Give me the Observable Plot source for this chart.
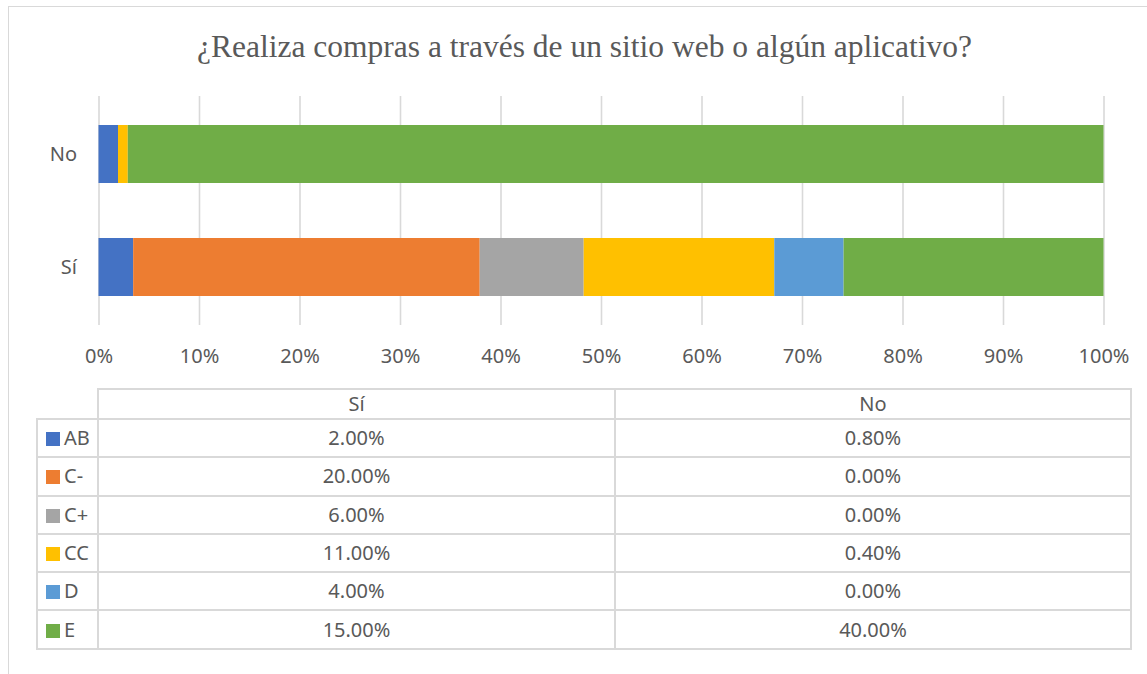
<!DOCTYPE html>
<html>
<head>
<meta charset="utf-8">
<script src="https://cdn.jsdelivr.net/npm/d3@7"></script>
<script src="https://cdn.jsdelivr.net/npm/@observablehq/plot@0.6"></script>
<style>
  html, body { margin: 0; padding: 0; background: #fff; }
  #wrap { position: relative; width: 1147px; height: 674px; overflow: hidden; background: #fff; }
  #frame { position: absolute; left: 8px; top: 6px; width: 1200px; height: 700px;
           border-left: 1.5px solid #d9d9d9; border-top: 1.5px solid #d9d9d9; }
  #title { position: absolute; left: 22px; width: 1125px; top: 31px; text-align: center;
           font-family: "Liberation Serif", "Times New Roman", serif; font-size: 31.5px; line-height: 31.5px;
           color: #595959; white-space: nowrap; }
  #chart { position: absolute; left: 0; top: 0; }
  #tbl { position: absolute; left: 36px; top: 388px; border-collapse: collapse;
         font-family: "Noto Sans", sans-serif; font-size: 20px; color: #595959; table-layout: fixed; }
  #tbl td { border: 2px solid #d9d9d9; padding: 0; text-align: center; line-height: 20px; }
  #tbl tr.head td { height: 28px; }
  #tbl tr.row td { height: 36.3px; }
  #tbl td.corner { border-top: none; border-left: none; }
  #tbl td.cat { text-align: left; padding-left: 8px; white-space: nowrap; }
  .sw { display: inline-block; width: 14px; height: 14px; margin-right: 4px; vertical-align: -1px; }
</style>
</head>
<body>
<div id="wrap">
  <div id="frame"></div>
  <div id="title"></div>
  <div id="chart"></div>
  <table id="tbl"></table>
</div>
<script>
const title = "¿Realiza compras a través de un sitio web o algún aplicativo?";
const answers = ["No", "Sí"];               // top to bottom in the chart
const tableAnswers = ["Sí", "No"];          // column order in the data table
const categories = ["AB", "C-", "C+", "CC", "D", "E"];
const colors = ["#4472C4", "#ED7D31", "#A5A5A5", "#FFC000", "#5B9BD5", "#70AD47"];
const siValues = [2.00, 20.00, 6.00, 11.00, 4.00, 15.00];
const noValues = [0.80, 0.00, 0.00, 0.40, 0.00, 40.00];
const xTicks = [0, 0.1, 0.2, 0.3, 0.4, 0.5, 0.6, 0.7, 0.8, 0.9, 1];

const data = categories.flatMap((c, i) => [
  {answer: "Sí", category: c, value: siValues[i]},
  {answer: "No", category: c, value: noValues[i]}
]);

document.getElementById("title").textContent = title;

const fmt = d3.format(".0%");
const chart = Plot.plot({
  width: 1147,
  height: 380,
  marginLeft: 98.5,
  marginRight: 43.5,
  marginTop: 96,
  marginBottom: 55,
  style: {fontFamily: "'Noto Sans', sans-serif", fontSize: "20px", color: "#595959", background: "transparent"},
  x: {domain: [0, 1], label: null},
  y: {domain: answers, paddingInner: 0.488, paddingOuter: 0.25, label: null},
  color: {domain: categories, range: colors},
  marks: [
    Plot.gridX(xTicks, {stroke: "#d9d9d9", strokeOpacity: 1, strokeWidth: 1.6}),
    Plot.barX(data, Plot.stackX({x: "value", y: "answer", fill: "category", offset: "normalize"})),
    Plot.axisX(xTicks, {tickFormat: fmt, tickSize: 0, tickPadding: 23, fontSize: 20, label: null}),
    Plot.axisY({tickSize: 0, tickPadding: 22, fontSize: 20, label: null})
  ]
});
document.getElementById("chart").appendChild(chart);

// data table below the chart
const tbl = document.getElementById("tbl");
const colg = document.createElement("colgroup");
[61, 517, 516].forEach(w => { const c = document.createElement("col"); c.style.width = w + "px"; colg.appendChild(c); });
tbl.appendChild(colg);
const head = document.createElement("tr");
head.className = "head";
const corner = document.createElement("td");
corner.className = "corner";
head.appendChild(corner);
tableAnswers.forEach(a => { const td = document.createElement("td"); td.textContent = a; head.appendChild(td); });
tbl.appendChild(head);
const vfmt = v => v.toFixed(2) + "%";
categories.forEach((c, i) => {
  const tr = document.createElement("tr");
  tr.className = "row";
  const td0 = document.createElement("td");
  td0.className = "cat";
  const sw = document.createElement("span");
  sw.className = "sw";
  sw.style.background = colors[i];
  td0.appendChild(sw);
  td0.appendChild(document.createTextNode(c));
  tr.appendChild(td0);
  [siValues[i], noValues[i]].forEach(v => { const td = document.createElement("td"); td.textContent = vfmt(v); tr.appendChild(td); });
  tbl.appendChild(tr);
});
</script>
</body>
</html>
